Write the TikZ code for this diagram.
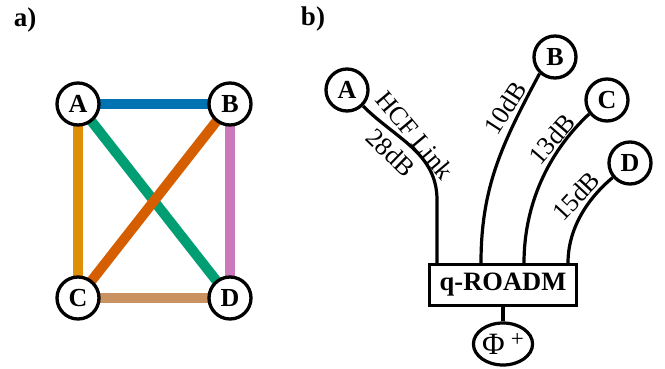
\documentclass[tikz,border=0pt]{standalone}
\usepackage{fontspec}
\setmainfont{Liberation Serif}
\usetikzlibrary{backgrounds,shapes.geometric}
\definecolor{cblue}{HTML}{0173B2}
\definecolor{corange}{HTML}{DE8F05}
\definecolor{cgreen}{HTML}{029E73}
\definecolor{cverm}{HTML}{D55E00}
\definecolor{cpink}{HTML}{CC78BC}
\definecolor{ctan}{HTML}{CA9161}
\tikzset{
  site/.style={circle,draw,line width=3.3pt,fill=white,minimum size=42pt,inner sep=0pt,
    font=\fontsize{26}{26}\selectfont\bfseries},
  edge/.style={line width=10pt},
  fiber/.style={line width=3.2pt},
  lbl/.style={inner sep=0pt,font=\fontsize{26}{26}\selectfont},
  panel/.style={inner sep=0pt,font=\fontsize{27}{27}\selectfont\bfseries},
}
\begin{document}
\begin{tikzpicture}[x=1pt,y=-1pt]
\useasboundingbox (0,0) rectangle (665,369);

% panel labels
\node[panel] (pa) at (25,20) {a)};
\node[panel] (pb) at (313,19) {b)};

% a) fully connected four-node network
\node[site] (a1) at (78,104) {A};
\node[site] (b1) at (230,104) {B};
\node[site] (c1) at (78,298) {C};
\node[site] (d1) at (230,298) {D};
\begin{scope}[on background layer]
  \draw[edge,cblue]   (a1.center) -- (b1.center);
  \draw[edge,corange] (a1.center) -- (c1.center);
  \draw[edge,cpink]   (b1.center) -- (d1.center);
  \draw[edge,ctan]    (c1.center) -- (d1.center);
  \draw[edge,cgreen]  (a1.center) -- (d1.center);
  \draw[edge,cverm]   (b1.center) -- (c1.center);
\end{scope}

% b) star topology around the q-ROADM
\node[site] (a2) at (347,90) {A};
\node[site] (b2) at (555,57) {B};
\node[site] (c2) at (607,100) {C};
\node[site] (d2) at (630,163) {D};
\node[draw,line width=3.2pt,minimum width=147pt,minimum height=41pt,inner sep=0pt,
      font=\fontsize{26.5}{26.5}\selectfont\bfseries] (roadm) at (503,285) {q-ROADM};
\node[ellipse,draw,line width=3.2pt,minimum width=59pt,minimum height=42pt,inner sep=0pt,
      font=\fontsize{31}{31}\selectfont] (phi) at (503,344)
      {\raisebox{-.08em}{Φ}\hspace{.2em}\raisebox{.18em}{\fontsize{23}{23}\selectfont+}};

\coordinate (pA) at (437,263);
\coordinate (pB) at (481,263);
\coordinate (pC) at (524,263);
\coordinate (pD) at (568,263);

\draw[fiber] (a2.-45) .. controls (396,139) and (437,153) .. (437,200) -- (pA);
\draw[fiber] (b2.-133) to[out=-118,in=90] (pB);
\draw[fiber] (c2.-142) to[out=-137,in=90,looseness=0.9] (pC);
\draw[fiber] (d2.-140) to[out=-140,in=90,looseness=0.9] (pD);
\draw[fiber] (roadm) -- (phi);

% fibre labels
\node[lbl,rotate=-50] (hcf) at (415,135) {HCF Link};
\node[lbl,rotate=-44] (lA) at (391,153) {28dB};
\node[lbl,rotate=57] (lB) at (505,108) {10dB};
\node[lbl,rotate=49] (lC) at (552,139) {13dB};
\node[lbl,rotate=47] (lD) at (576,196) {15dB};
\end{tikzpicture}
\end{document}
